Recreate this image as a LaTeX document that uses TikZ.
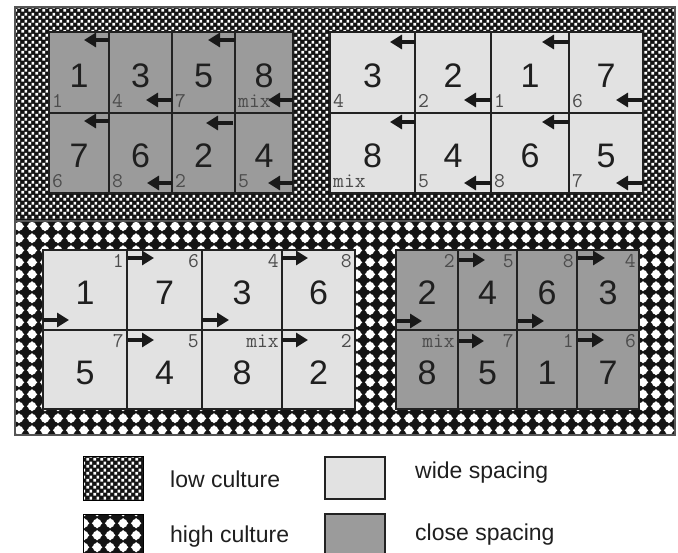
\documentclass[tikz,border=0pt]{standalone}
\usepackage{fontspec}
\setmainfont{Liberation Sans}
\usetikzlibrary{arrows.meta,patterns}
\definecolor{closegray}{HTML}{9B9B9B}
\definecolor{widegray}{HTML}{E2E2E2}
\definecolor{linec}{HTML}{222222}
\definecolor{framec}{HTML}{555555}
\pgfdeclarepatternformonly{lowcult}{\pgfpointorigin}{\pgfpoint{7.2pt}{7.2pt}}{\pgfpoint{7.2pt}{7.2pt}}{%
  \pgfpathrectangle{\pgfpoint{0.3pt}{0.3pt}}{\pgfpoint{3.2pt}{3.2pt}}%
  \pgfpathrectangle{\pgfpoint{3.9pt}{3.8pt}}{\pgfpoint{3.0pt}{3.1pt}}%
  \pgfusepath{fill}}
\pgfdeclarepatternformonly{highcult}{\pgfpointorigin}{\pgfpoint{13pt}{11.7pt}}{\pgfpoint{13pt}{11.7pt}}{%
  \pgfpathmoveto{\pgfpoint{12.1pt}{5.85pt}}%
  \pgfpathlineto{\pgfpoint{6.5pt}{11.1pt}}%
  \pgfpathlineto{\pgfpoint{0.9pt}{5.85pt}}%
  \pgfpathlineto{\pgfpoint{6.5pt}{0.6pt}}%
  \pgfpathclose
  \pgfpathcircle{\pgfpoint{6.5pt}{5.85pt}}{4.6pt}%
  \pgfusepath{fill}}
\tikzset{
  closecell/.style={fill=closegray, draw=linec, line width=2pt},
  widecell/.style={fill=widegray, draw=linec, line width=2pt},
  bignum/.style={font=\fontsize{34}{34}\selectfont, text=black!88, inner sep=0pt},
  smalllab/.style={font=\ttfamily\fontsize{21}{21}\selectfont, text=black!70, inner sep=0pt},
  flow/.style={line width=4pt, draw=black!90, -{Triangle[length=12pt,width=14pt]}},
  legtext/.style={font=\fontsize{23}{23}\selectfont, text=black!88, anchor=west, inner sep=0pt},
}
\begin{document}
\begin{tikzpicture}[x=1pt,y=-1pt]
\clip (0,0) rectangle (678,553);
\fill[white] (0,0) rectangle (678,553);
% background fields
\fill[black!92] (15,7) rectangle (675,221);
\fill[pattern=lowcult, pattern color=white] (16,8) rectangle (674,219);
\fill[black!92] (15,221) rectangle (675,435);
\fill[pattern=highcult, pattern color=white] (16,223) rectangle (674,434);
\draw[framec, line width=1.5pt] (15,7) rectangle (675,435);
\draw[framec, line width=1.5pt] (15,221) -- (675,221);
% top-left: close spacing, low culture
\foreach \xa/\xb/\ya/\yb/\n/\l [count=\i] in {
  49/109/32/113/1/1, 109/172/32/113/3/4, 172/235/32/113/5/7, 235/293/32/113/8/mix,
  49/109/113/193/7/6, 109/172/113/193/6/8, 172/235/113/193/2/2, 235/293/113/193/4/5}{
  \draw[closecell] (\xa,\ya) rectangle (\xb,\yb);
  \node[bignum] (tl\i) at ({(\xa+\xb)/2},{(\ya+\yb)/2+3}) {\n};
  \node[smalllab, anchor=base west] (tls\i) at (\xa+3,\yb-5) {\l};
}
% top-right: wide spacing, low culture
\foreach \xa/\xb/\ya/\yb/\n/\l [count=\i] in {
  330/415/32/113/3/4, 415/491/32/113/2/2, 491/569/32/113/1/1, 569/643/32/113/7/6,
  330/415/113/193/8/mix, 415/491/113/193/4/5, 491/569/113/193/6/8, 569/643/113/193/5/7}{
  \draw[widecell] (\xa,\ya) rectangle (\xb,\yb);
  \node[bignum] (tr\i) at ({(\xa+\xb)/2},{(\ya+\yb)/2+3}) {\n};
  \node[smalllab, anchor=base west] (trs\i) at (\xa+3,\yb-5) {\l};
}
% bottom-left: wide spacing, high culture
\foreach \xa/\xb/\ya/\yb/\n/\l [count=\i] in {
  43/127/250/330/1/1, 127/202/250/330/7/6, 202/282/250/330/3/4, 282/355/250/330/6/8,
  43/127/330/409/5/7, 127/202/330/409/4/5, 202/282/330/409/8/mix, 282/355/330/409/2/2}{
  \draw[widecell] (\xa,\ya) rectangle (\xb,\yb);
  \node[bignum] (bl\i) at ({(\xa+\xb)/2},{(\ya+\yb)/2+3}) {\n};
  \node[smalllab, anchor=base east] (bls\i) at (\xb-3,\ya+18) {\l};
}
% bottom-right: close spacing, high culture
\foreach \xa/\xb/\ya/\yb/\n/\l [count=\i] in {
  396/458/250/330/2/2, 458/517/250/330/4/5, 517/577/250/330/6/8, 577/639/250/330/3/4,
  396/458/330/409/8/mix, 458/517/330/409/5/7, 517/577/330/409/1/1, 577/639/330/409/7/6}{
  \draw[closecell] (\xa,\ya) rectangle (\xb,\yb);
  \node[bignum] (br\i) at ({(\xa+\xb)/2},{(\ya+\yb)/2+3}) {\n};
  \node[smalllab, anchor=base east] (brs\i) at (\xb-3,\ya+18) {\l};
}
% arrows top (pointing left)
\foreach \xa/\xb/\y in {109/84/40, 172/146/100, 235/208/40, 293/268/100,
  109/84/121, 172/147/183, 233/206/123, 293/268/183,
  415/390/42, 491/464/100, 569/542/42, 643/616/100,
  415/390/122, 491/464/183, 569/542/122, 643/616/183}{
  \draw[flow] (\xa,\y) -- (\xb,\y);
}
% arrows bottom (pointing right)
\foreach \xa/\xb/\y in {43/69/320, 128/154/258, 202/229/320, 282/308/258,
  128/154/340, 282/308/340,
  396/422/321, 459/485/260, 518/544/321, 578/605/258,
  459/484/341, 578/604/340}{
  \draw[flow] (\xa,\y) -- (\xb,\y);
}
% legend
\fill[black!92] (83,457) rectangle (143,500);
\fill[pattern=lowcult, pattern color=white] (84,458) rectangle (142,499);
\draw[black, line width=1pt] (83,457) rectangle (143,500);
\fill[black!92] (83,514) rectangle (143,560);
\fill[pattern=highcult, pattern color=white] (84,515) rectangle (142,560);
\draw[black, line width=1pt] (83,514) rectangle (143,560);
\draw[fill=widegray, draw=linec, line width=1.5pt] (325,457) rectangle (385,499);
\draw[fill=closegray, draw=linec, line width=1.5pt] (325,514) rectangle (385,560);
\node[legtext] (lowt) at (170,479) {low culture};
\node[legtext] (hight) at (170,537) {high culture};
\node[legtext] (widet) at (415,473) {wide spacing};
\node[legtext] (closet) at (415,535) {close spacing};
\end{tikzpicture}
\end{document}
